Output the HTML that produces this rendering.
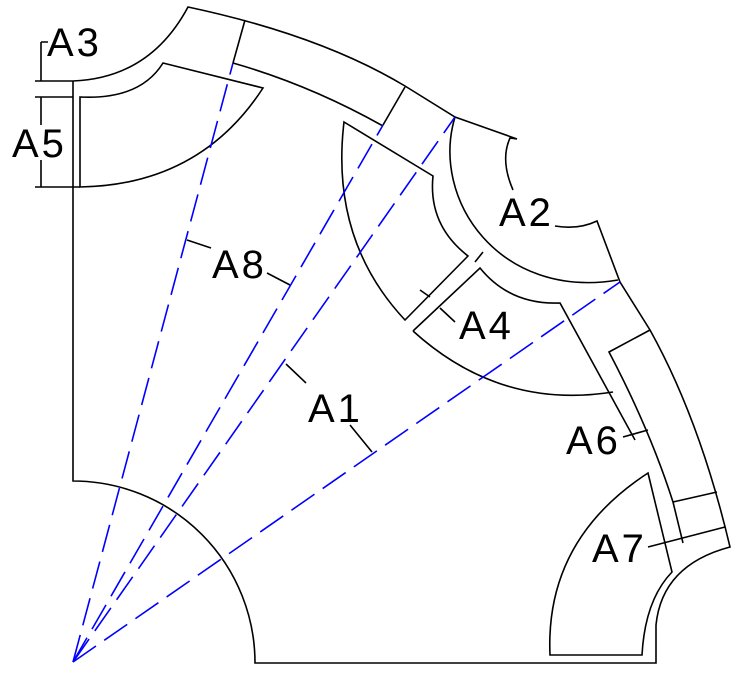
<!DOCTYPE html>
<html><head><meta charset="utf-8"><style>
html,body{margin:0;padding:0;background:#fff;}
svg{display:block}
text{font-family:"Liberation Sans",sans-serif;font-size:40px;fill:#000;letter-spacing:3px;}
</style></head><body>
<svg width="736" height="675" viewBox="0 0 736 675" xmlns="http://www.w3.org/2000/svg">
<g fill="none" stroke="#000" stroke-width="1.6">
<path d="M73,81 L73,481 A182,182 0 0 1 255,663 L656,663 L656,625 Q662,565 730,547 Q700,420 650,330 L620,282 L597,221 Q578,230 555,226 M513,190 Q500,160 510,138 L517,139 L455,117 L405,86 Q320,35 188,7 Q150,78 73,81"/>
<path d="M233,63 Q310,85 383,126"/>
<path d="M245,20 L233,63"/>
<path d="M405,87 L383,125"/>
<path d="M80,97 Q140,100 163,63 L263,88 Q200,185 80,187 Z"/>
<path d="M35,81 L73,81 M35,97 L73,97 M35,187 L80,187 M41,42 L41,81 M41,42 L48,42 M41,97 L41,125 M41,160 L41,187"/>
<path d="M344,122 L433,176 Q428,225 468,256 L405,320 Q330,240 344,122 Z"/>
<path d="M455,117 C430,200 500,300 618,280"/>
<path d="M483,252 L475,262 M420,290 L430,297 M440,308 L455,322"/>
<path d="M413,331 L480,268 Q510,305 560,303 L635,440 M613,392 Q500,410 413,331"/>
<path d="M650,330 L609,352 Q650,430 673,502 L683,543 M673,502 L717,492 M648,547 L725,527 M623,437 L648,430"/>
<path d="M648,473 L672,572 Q645,600 642,655 L550,655 Q545,540 648,473 Z"/>
<path d="M187,240 L211,248 M267,273 L290,285 M286,364 L306,383 M350,425 L372,452"/>
</g>
<g stroke="#0000ff" stroke-width="1.6" stroke-dasharray="28,10" fill="none">
<line x1="73" y1="662" x2="233" y2="63"/>
<line x1="73" y1="662" x2="383" y2="125"/>
<line x1="73" y1="662" x2="455" y2="117"/>
<line x1="73" y1="662" x2="620" y2="282"/>
</g>
<text x="47" y="56">A3</text>
<text x="12" y="157">A5</text>
<text x="212" y="278">A8</text>
<text x="308" y="422">A1</text>
<text x="499" y="226">A2</text>
<text x="459" y="339">A4</text>
<text x="566" y="454">A6</text>
<text x="592" y="562">A7</text>
</svg>
</body></html>
